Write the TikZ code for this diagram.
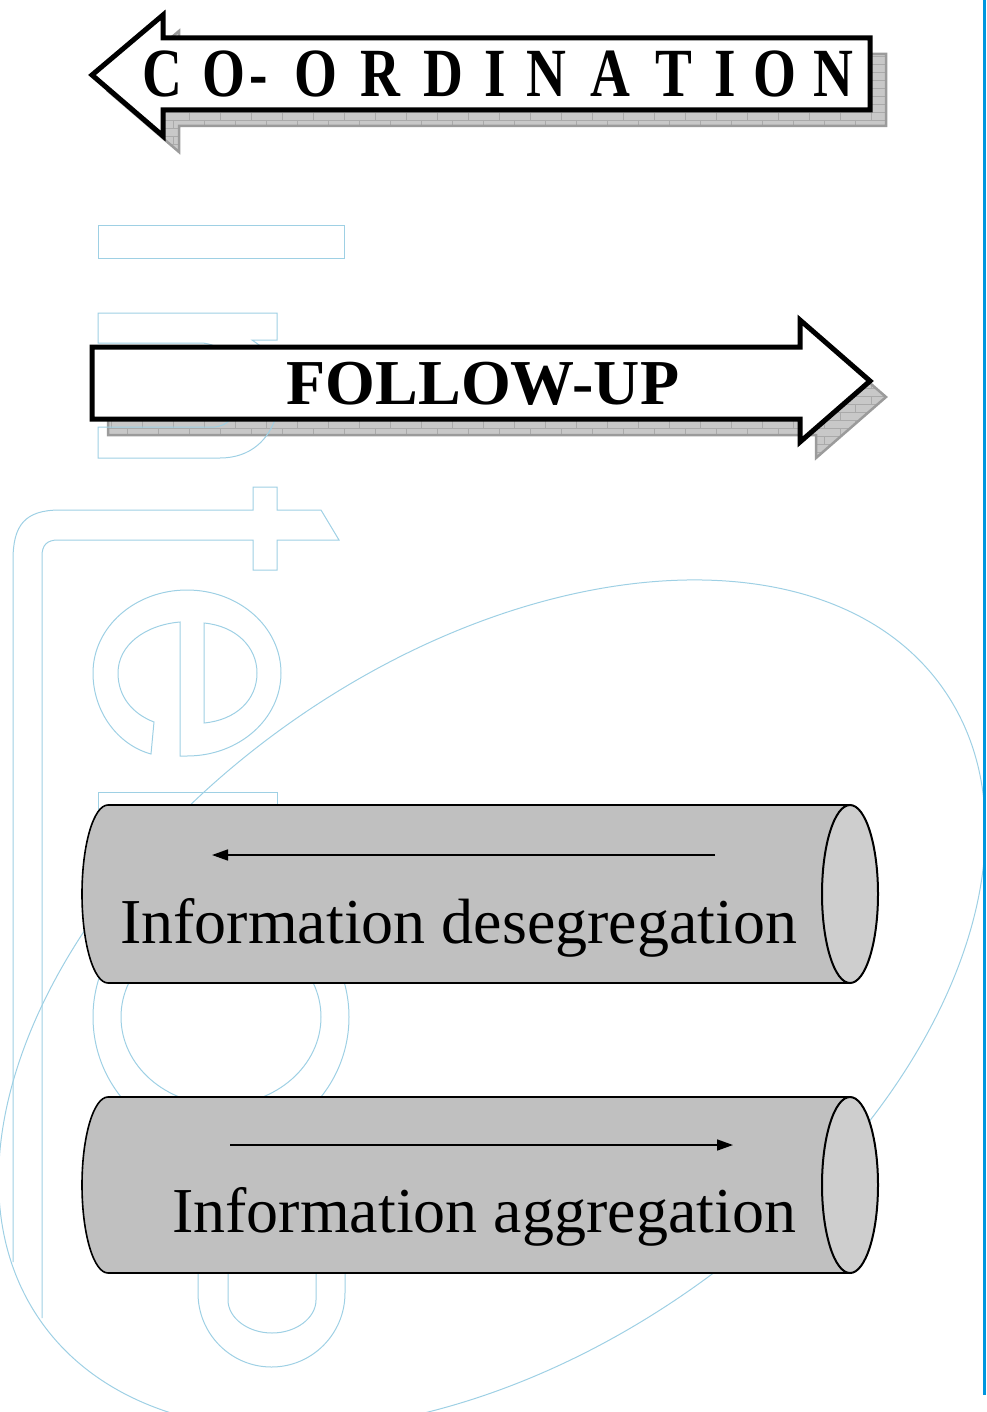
\documentclass[tikz,border=0pt]{standalone}
\usepackage{fontspec}
\setmainfont{Liberation Serif}
\usetikzlibrary{arrows.meta}

\definecolor{wmblue}{RGB}{158,208,228}
\definecolor{edgeblue}{RGB}{0,150,222}
\definecolor{cylbody}{RGB}{192,192,192}
\definecolor{cylface}{RGB}{206,206,206}
\definecolor{shadefill}{RGB}{200,200,200}
\definecolor{shadeedge}{RGB}{155,155,155}
\definecolor{brickline}{RGB}{170,170,170}

\begin{document}
\begin{tikzpicture}[x=1pt,y=-1pt,
  wm/.style={draw=wmblue,line width=1pt},
  blockarrow/.style={draw=black,fill=white,line width=5pt,line join=miter},
  shadowedge/.style={draw=shadeedge,line width=2.5pt,line join=miter},
  brick/.style={draw=brickline,line width=0.5pt},
  cylbodystyle/.style={fill=cylbody,draw=black,line width=1.6pt},
  cylfacestyle/.style={fill=cylface,draw=black,line width=2pt},
  flowarrow/.style={line width=1.6pt,-{Triangle[length=16pt,width=11pt]}},
  bigletter/.style={font=\fontsize{69}{69}\selectfont\bfseries,anchor=base,inner sep=0pt},
  cyltext/.style={font=\fontsize{64}{64}\selectfont,anchor=base west,inner sep=0pt},
]
\useasboundingbox (0,0) rectangle (986,1412);

% ---------- drop shadows of the two block arrows ----------
\begin{scope}[shift={(16,16)}]
  \fill[shadefill] (92,75) -- (163,15) -- (163,38) -- (870,38) -- (870,110) -- (163,110) -- (163,136) -- cycle;
  \begin{scope}
    \clip (92,75) -- (163,15) -- (163,38) -- (870,38) -- (870,110) -- (163,110) -- (163,136) -- cycle;
    \foreach \r in {0,...,18} {
      \draw[brick] (80,{8*\r}) -- (880,{8*\r});
      \foreach \c in {0,...,26}
        \draw[brick] ({80+31*\c+15.5*mod(\r,2)},{8*\r}) -- ++(0,8);
    }
  \end{scope}
  \draw[shadowedge] (92,75) -- (163,15) -- (163,38) -- (870,38) -- (870,110) -- (163,110) -- (163,136) -- cycle;

  \fill[shadefill] (92,347) -- (800,347) -- (800,320) -- (870,381) -- (800,442) -- (800,419) -- (92,419) -- cycle;
  \begin{scope}
    \clip (92,347) -- (800,347) -- (800,320) -- (870,381) -- (800,442) -- (800,419) -- (92,419) -- cycle;
    \foreach \r in {0,...,20} {
      \draw[brick] (80,{300+8*\r}) -- (880,{300+8*\r});
      \foreach \c in {0,...,26}
        \draw[brick] ({80+31*\c+15.5*mod(\r,2)},{300+8*\r}) -- ++(0,8);
    }
  \end{scope}
  \draw[shadowedge] (92,347) -- (800,347) -- (800,320) -- (870,381) -- (800,442) -- (800,419) -- (92,419) -- cycle;
\end{scope}

% ---------- light blue logo in the background ----------
\begin{scope}
  \clip (0,0) rectangle (986,1412);
  % large tilted ellipse
  \draw[wm,rotate around={35:(492,1005)}] (492,1005) ellipse [x radius=551pt, y radius=347pt];
\end{scope}
% first letter stroke
\draw[wm] (98,226) rectangle (344,259);
% second letter (arch)
\draw[wm] (98,343) -- (98,313) -- (277,313) -- (277,340) -- (252,340) -- (262,347)
  .. controls (272,360) and (277,375) .. (277,392) -- (277,413)
  .. controls (270,440) and (250,458) .. (220,458) -- (98,458) -- (98,427) -- (215,427)
  .. controls (232,425) and (240,410) .. (240,390)
  .. controls (240,362) and (222,343) .. (200,343) -- cycle;
% frame with the cross stroke
\draw[wm] (13,1262) -- (13,560) .. controls (13,525) and (25,510) .. (60,510)
  -- (253,510) -- (253,487) -- (277,487) -- (277,510) -- (321,510) -- (339,540)
  -- (277,540) -- (277,570) -- (253,570) -- (253,540) -- (58,540)
  .. controls (47,540) and (42,545) .. (42,556) -- (42,1318);
% rounded letter with bar
\draw[wm] (151,754) .. controls (118,745) and (93,712) .. (93,673)
  .. controls (93,627) and (135,590) .. (187,590)
  .. controls (239,590) and (281,627) .. (281,673)
  .. controls (281,719) and (239,756) .. (187,756) -- (180,756) -- (180,622)
  .. controls (145,625) and (118,645) .. (118,673)
  .. controls (118,697) and (133,714) .. (154,722) -- cycle;
\draw[wm] (204,623) .. controls (236,626) and (257,647) .. (257,673)
  .. controls (257,700) and (236,720) .. (204,723) -- cycle;
% letter partly behind the upper cylinder
\draw[wm] (98,900) -- (98,792) -- (277,792) -- (277,900);
% ring between the cylinders
\draw[wm] (221,1017) circle [radius=128pt];
\draw[wm] (221,1017) ellipse [x radius=100pt, y radius=88pt];
% hook below the lower cylinder
\draw[wm] (198,1250) -- (198,1293) .. controls (198,1334) and (231,1367) .. (271.5,1367)
  .. controls (312,1367) and (345,1334) .. (345,1293) -- (345,1250);
\draw[wm] (228,1250) -- (228,1300) .. controls (228,1318) and (248,1333) .. (272,1333)
  .. controls (296,1333) and (316,1318) .. (316,1300) -- (316,1250);

% ---------- CO-ORDINATION block arrow (pointing left) ----------
\draw[blockarrow] (92,75) -- (163,15) -- (163,38) -- (870,38) -- (870,110) -- (163,110) -- (163,136) -- cycle;
\foreach \ch/\cx [count=\i] in {C/162,O/224,-/259,O/316,R/380,D/443,I/495,N/546,A/610,T/674,I/725,O/775,N/833}
  \node[bigletter] (co\i) at (\cx,97) {\scalebox{0.8}[1]{\ch}};

% ---------- FOLLOW-UP block arrow (pointing right) ----------
\draw[blockarrow] (92,347) -- (800,347) -- (800,320) -- (870,381) -- (800,442) -- (800,419) -- (92,419) -- cycle;
\node[font=\fontsize{64}{64}\selectfont\bfseries,anchor=base,inner sep=0pt] (follow) at (483,404) {FOLLOW-UP};

% ---------- upper cylinder ----------
\draw[cylbodystyle] (850,805) -- (108,805) .. controls (93.6,805) and (82,844.8) .. (82,894)
  .. controls (82,943.2) and (93.6,983) .. (108,983) -- (850,983) -- cycle;
\draw[cylfacestyle] (850,894) ellipse [x radius=28pt, y radius=89pt];
\coordinate (dsstart) at (715,855);
\coordinate (dsend) at (212,855);
\draw[flowarrow] (dsstart) -- (dsend);
\node[cyltext] (desegr) at (120,943) {Information desegregation};

% ---------- lower cylinder ----------
\draw[cylbodystyle] (850,1097) -- (108,1097) .. controls (93.6,1097) and (82,1136.4) .. (82,1185)
  .. controls (82,1233.6) and (93.6,1273) .. (108,1273) -- (850,1273) -- cycle;
\draw[cylfacestyle] (850,1185) ellipse [x radius=28pt, y radius=88pt];
\coordinate (agstart) at (230,1145);
\coordinate (agend) at (733,1145);
\draw[flowarrow] (agstart) -- (agend);
\node[cyltext] (aggr) at (172,1232) {Information aggregation};

% ---------- blue rule at the right margin ----------
\coordinate (ruletop) at (984.5,0);
\coordinate (rulebot) at (984.5,1395);
\draw[edgeblue,line width=3pt] (ruletop) -- (rulebot);
\end{tikzpicture}
\end{document}
